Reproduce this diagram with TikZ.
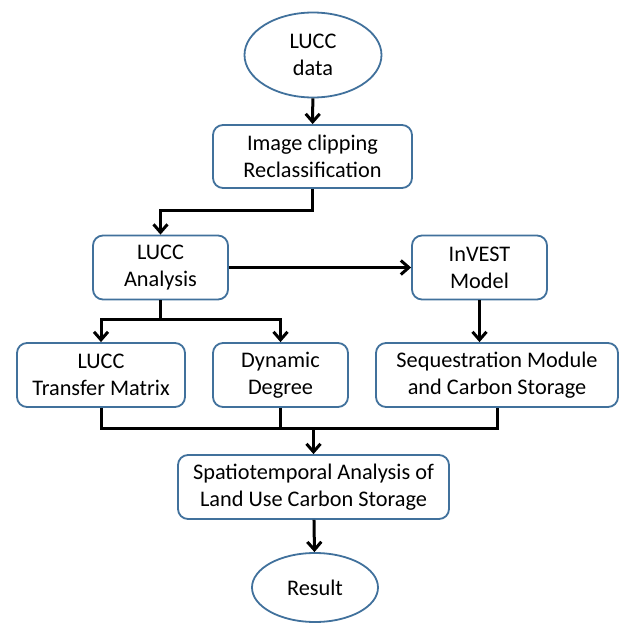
\documentclass[tikz,border=0pt]{standalone}
\usepackage{fontspec}
\setmainfont{Carlito}
\usetikzlibrary{arrows.meta,shapes.geometric}
\definecolor{edgeblue}{RGB}{65,113,156}
\begin{document}
\begin{tikzpicture}[x=1pt, y=-1pt,
    box/.style={draw=edgeblue, line width=1.8pt, rounded corners=10pt, fill=white,
      minimum height=64pt, inner sep=0pt, align=center,
      font=\fontsize{22.3}{27}\selectfont},
    term/.style={draw=edgeblue, line width=1.8pt, ellipse, fill=white,
      inner sep=0pt, align=center, font=\fontsize{22.3}{27}\selectfont},
    arr/.style={line width=3pt, -{Straight Barb[length=8pt, width=14pt, line width=3pt]}},
    link/.style={line width=3pt},
]
\useasboundingbox (0,0) rectangle (620,624);

\node[term, minimum width=137pt, minimum height=85pt] (data) at (313,55) {LUCC\\data};
\node[box, minimum width=199pt, minimum height=63pt] (clip) at (312.5,156.5) {Image clipping\\Reclassification};
\node[box, minimum width=135pt] (ana) at (160.5,267.5) {LUCC\\Analysis};
\node[box, minimum width=135pt] (invest) at (479.5,267.5) {InVEST\\Model};
\node[box, minimum width=168pt] (transfer) at (101,375) {LUCC\\Transfer Matrix};
\node[box, minimum width=135pt] (dyn) at (280.5,375) {Dynamic\\Degree};
\node[box, minimum width=242pt] (seq) at (497,375) {Sequestration Module\\and Carbon Storage};
\node[box, minimum width=271pt] (spat) at (313.5,487) {Spatiotemporal Analysis of\\Land Use Carbon Storage};
\node[term, minimum width=126pt, minimum height=69pt] (res) at (315,587.5) {Result};

\draw[arr] (data) -- (clip);
\draw[arr] (clip.south) -- ++(0,22) -| (ana.north);
\draw[arr] (ana) -- (invest);

\draw[link] (ana.south) -- ++(0,19) coordinate (split);
\draw[arr] (split) -| (transfer.north);
\draw[arr] (split) -| (dyn.north);
\draw[arr] (invest.south) -- (invest.south |- seq.north);

\draw[link] (transfer.south) -- ++(0,21) coordinate (join) -| (seq.south);
\draw[link] (dyn.south) -- (dyn.south |- join);
\draw[arr] (spat.north |- join) -- (spat.north);
\draw[arr] (spat) -- (res);

\end{tikzpicture}
\end{document}
